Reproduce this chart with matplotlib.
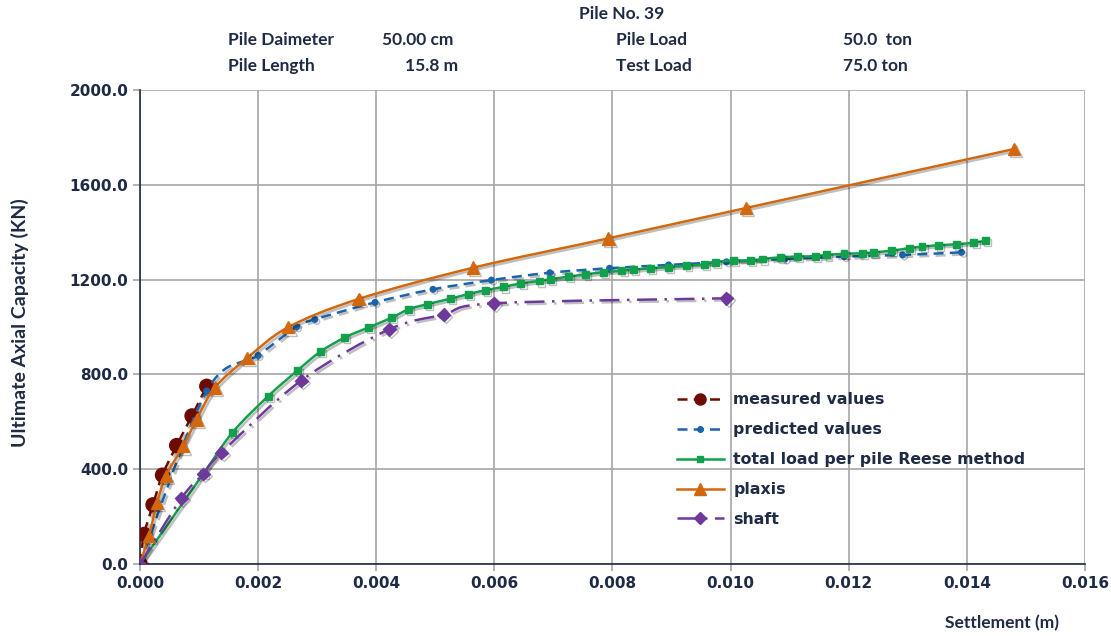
import matplotlib
matplotlib.use("Agg")
import matplotlib.pyplot as plt
import matplotlib.patheffects as pe
from matplotlib.path import Path
from matplotlib.patches import PathPatch
from matplotlib.lines import Line2D
import numpy as np

# settlement (m) / load (kN)
meas_x = [0.0, 0.00007, 0.00022, 0.00038, 0.00062, 0.00088, 0.00113]
meas_y = [0, 125, 250, 375, 500, 625, 750]

pred_x = [0.0, 0.00113, 0.00200, 0.00265, 0.00296, 0.00398, 0.00496, 0.00595, 0.00694,
          0.00795, 0.00895, 0.00993, 0.01092, 0.01192, 0.01291, 0.01391]
pred_y = [0, 730, 880, 1001, 1032, 1104, 1159, 1198, 1229, 1248, 1262, 1275, 1287, 1297, 1304, 1315]

reese_x = [0.0, 0.00107, 0.00157, 0.00217, 0.00266, 0.00305, 0.00347, 0.00387, 0.00426, 0.00455,
           0.00486, 0.00525, 0.00556, 0.00585, 0.00615, 0.00645, 0.00676, 0.00695, 0.00725,
           0.00755, 0.00784, 0.00816, 0.00835, 0.00865, 0.00895, 0.00926, 0.00955, 0.00974,
           0.01005, 0.01034, 0.01054, 0.01084, 0.01113, 0.01143, 0.01163, 0.01192, 0.01223,
           0.01242, 0.01273, 0.01303, 0.01324, 0.01352, 0.01382, 0.01412, 0.01431]
reese_y = [0, 380, 556, 708, 815, 895, 956, 998, 1039, 1075, 1096, 1119, 1139, 1155, 1169, 1184,
           1194, 1202, 1212, 1222, 1231, 1237, 1242, 1248, 1253, 1259, 1264, 1274, 1280, 1281,
           1287, 1294, 1297, 1299, 1304, 1309, 1311, 1315, 1322, 1333, 1339, 1345, 1349, 1356, 1364]

plaxis_x = [0.0, 0.00015, 0.00029, 0.00044, 0.00073, 0.00096, 0.00127, 0.00182, 0.00251,
            0.0037, 0.00564, 0.00793, 0.01026, 0.0148]
plaxis_y = [0, 119, 258, 372, 497, 610, 745, 870, 999, 1118, 1250, 1374, 1502, 1751]

shaft_x = [0.0, 0.0007, 0.00107, 0.00138, 0.00273, 0.00422, 0.00514, 0.00599, 0.00993]
shaft_y = [0, 277, 380, 470, 774, 990, 1052, 1100, 1121]

text_col = "#1F2A44"
plt.rcParams["font.family"] = ["DejaVu Sans"]
plt.rcParams["font.weight"] = "bold"

fig = plt.figure(figsize=(11.11, 6.36), dpi=100)
ax = fig.add_axes([0.126, 0.1132, 0.8506, 0.7453])

shadow = [pe.SimpleLineShadow(offset=(1.5, -1.5), alpha=0.25, shadow_color="black"), pe.Normal()]


def smooth(ax, x, y, color, ls, lw, z):
    # excel-style smoothed line through the points (bezier)
    pts = np.column_stack([x, y]).astype(float)
    n = len(pts)
    verts = [pts[0]]
    codes = [Path.MOVETO]
    for i in range(n - 1):
        p0 = pts[max(i - 1, 0)]
        p1 = pts[i]
        p2 = pts[i + 1]
        p3 = pts[min(i + 2, n - 1)]
        verts += [p1 + (p2 - p0) / 6.0, p2 - (p3 - p1) / 6.0, p2]
        codes += [Path.CURVE4] * 3
    patch = PathPatch(Path(verts, codes), facecolor="none", edgecolor=color,
                      linestyle=ls, linewidth=lw, zorder=z, capstyle="butt")
    patch.set_path_effects(shadow)
    ax.add_patch(patch)


series = [
    (meas_x, meas_y, "#6E0B00", (0, (4, 2.5)), "o", 10, "measured values"),
    (pred_x, pred_y, "#1A64AE", (0, (4, 2.5)), "o", 4, "predicted values"),
    (reese_x, reese_y, "#12A04C", "-", "s", 5, "total load per pile Reese method"),
    (plaxis_x, plaxis_y, "#D2670E", "-", "^", 9, "plaxis"),
    (shaft_x, shaft_y, "#6D3A9C", (0, (8, 3, 1, 3)), "D", 6.5, "shaft"),
]

handles = []
for k, (x, y, c, ls, m, ms, lab) in enumerate(series):
    z = 3 + k
    smooth(ax, x, y, c, ls, 1.8, z)
    mk, = ax.plot(x, y, linestyle="none", marker=m, markersize=ms, color=c, zorder=z + 0.5)
    mk.set_path_effects(shadow)
    handles.append(Line2D([], [], color=c, linestyle=ls, linewidth=1.8, marker=m,
                          markersize=min(ms, 8), label=lab))

ax.set_xlim(0, 0.016)
ax.set_ylim(0, 2000)
ax.set_xticks(np.arange(0, 0.0161, 0.002))
ax.set_yticks(np.arange(0, 2001, 400))
ax.xaxis.set_major_formatter(matplotlib.ticker.FormatStrFormatter("%.3f"))
ax.yaxis.set_major_formatter(matplotlib.ticker.FormatStrFormatter("%.1f"))
ax.grid(True, color="#A6A6A6", linewidth=1.2)
ax.set_axisbelow(True)
for s in ["top", "right"]:
    ax.spines[s].set_visible(False)
for s in ["left", "bottom"]:
    ax.spines[s].set_color(text_col)
    ax.spines[s].set_linewidth(1.2)
ax.tick_params(axis="both", colors="#A6A6A6", length=5, width=1.2, labelsize=11,
               labelcolor=text_col)
for t in ax.get_xticklabels() + ax.get_yticklabels():
    t.set_fontweight("bold")

ax.set_ylabel("Ultimate Axial Capacity (KN)", fontsize=14, fontweight="bold", color=text_col,
              fontfamily=["Lato", "DejaVu Sans"])
ax.yaxis.set_label_coords(-0.117, 0.51)
fig.text(0.953, 0.008, "Settlement (m)", ha="right", va="bottom", fontsize=12.5,
         fontweight="bold", color=text_col, fontfamily=["Lato", "DejaVu Sans"])

leg = ax.legend(handles=handles, loc="upper left", bbox_to_anchor=(0.553, 0.392),
                frameon=False, handlelength=3.0, labelspacing=0.95, handletextpad=0.6,
                prop={"size": 11.3, "weight": "bold", "family": "DejaVu Sans"})
for t in leg.get_texts():
    t.set_color(text_col)

hdr = dict(fontsize=12.5, fontweight="bold", color=text_col, fontfamily=["Lato", "DejaVu Sans"],
           va="center")
fig.text(622 / 1111, 1 - 14 / 636, "Pile No. 39", ha="center", **hdr)
fig.text(228 / 1111, 1 - 40 / 636, "Pile Daimeter", ha="left", **hdr)
fig.text(382 / 1111, 1 - 40 / 636, "50.00 cm", ha="left", **hdr)
fig.text(616 / 1111, 1 - 40 / 636, "Pile Load", ha="left", **hdr)
fig.text(843 / 1111, 1 - 40 / 636, "50.0  ton", ha="left", **hdr)
fig.text(228 / 1111, 1 - 66 / 636, "Pile Length", ha="left", **hdr)
fig.text(405 / 1111, 1 - 66 / 636, "15.8 m", ha="left", **hdr)
fig.text(616 / 1111, 1 - 66 / 636, "Test Load", ha="left", **hdr)
fig.text(843 / 1111, 1 - 66 / 636, "75.0 ton", ha="left", **hdr)

fig.savefig("out.png", dpi=100)
